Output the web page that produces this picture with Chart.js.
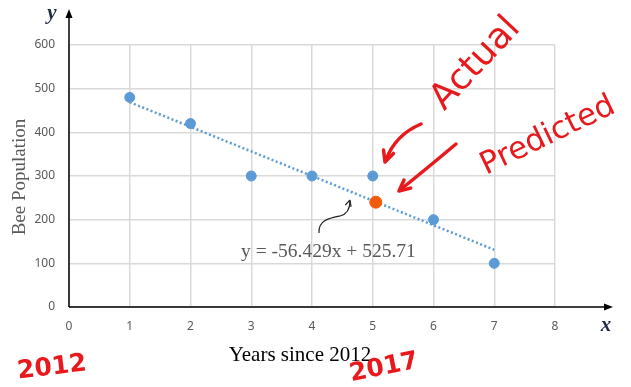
<!DOCTYPE html>
<html>
<head>
<meta charset="utf-8">
<script src="https://cdn.jsdelivr.net/npm/chart.js@4"></script>
<style>
  html, body { margin: 0; padding: 0; background: #fff; }
  #wrap { width: 631px; height: 387px; position: relative; }
</style>
</head>
<body>
<div id="wrap"><canvas id="c" width="631" height="387"></canvas></div>
<script>
// Población de abejas por año (desde 2012) con recta de tendencia
const years = [1, 2, 3, 4, 5, 6, 7];
const bees = [480, 420, 300, 300, 300, 200, 100];

// recta de tendencia (extremos)
const trendX = [1, 7];
const trendY = [469, 131];

// punto previsto (naranja) en 2017
const predX = [5.05];
const predY = [240];

const xTicks = [0, 1, 2, 3, 4, 5, 6, 7, 8];
const yTicks = [0, 100, 200, 300, 400, 500, 600];

const equation = 'y = -56.429x + 525.71';
const xTitle = 'Years since 2012';
const yTitle = 'Bee Population';

const blue = '#5b9bd5';
const red = '#e8191c';
const gray = '#595959';

function arrowHead(ctx, x, y, ang, size) {
    ctx.beginPath();
    ctx.moveTo(x, y);
    ctx.lineTo(x - size * Math.cos(ang - 0.45), y - size * Math.sin(ang - 0.45));
    ctx.moveTo(x, y);
    ctx.lineTo(x - size * Math.cos(ang + 0.45), y - size * Math.sin(ang + 0.45));
    ctx.stroke();
}

function rotText(ctx, txt, x, y, ang) {
    ctx.save();
    ctx.translate(x, y);
    ctx.rotate(ang);
    ctx.fillText(txt, 0, 0);
    ctx.restore();
}

const decor = {
    id: 'decor',
    afterDraw(chart) {
        const ctx = chart.ctx;
        const xs = chart.scales.x, ys = chart.scales.y;
        const x0 = xs.getPixelForValue(0), y0 = ys.getPixelForValue(0);

        // ejes con flecha
        ctx.save();
        ctx.strokeStyle = '#000';
        ctx.fillStyle = '#000';
        ctx.lineWidth = 1.5;
        ctx.beginPath();
        ctx.moveTo(x0, y0); ctx.lineTo(x0, 16);
        ctx.moveTo(x0, y0); ctx.lineTo(606, y0);
        ctx.stroke();
        ctx.beginPath();
        ctx.moveTo(x0, 9); ctx.lineTo(x0 - 3.5, 18); ctx.lineTo(x0 + 3.5, 18); ctx.closePath();
        ctx.fill();
        ctx.beginPath();
        ctx.moveTo(613, y0); ctx.lineTo(604, y0 - 3.5); ctx.lineTo(604, y0 + 3.5); ctx.closePath();
        ctx.fill();

        // letras de los ejes
        ctx.fillStyle = '#1f2a44';
        ctx.font = 'italic bold 21px "Liberation Serif"';
        ctx.textAlign = 'center';
        ctx.textBaseline = 'middle';
        ctx.fillText('y', 52, 14);
        ctx.fillText('x', 606, 326);

        // títulos
        ctx.fillStyle = gray;
        ctx.font = '19px "Liberation Serif"';
        rotText(ctx, yTitle, 20, 177, -Math.PI / 2);
        ctx.fillStyle = '#000';
        ctx.font = '21px "Liberation Serif"';
        ctx.fillText(xTitle, 300, 355);

        // ecuación
        ctx.fillStyle = gray;
        ctx.font = '19.5px "Liberation Serif"';
        ctx.fillText(equation, xs.getPixelForValue(4.27), ys.getPixelForValue(126));

        // flecha negra a mano
        ctx.strokeStyle = '#222';
        ctx.lineWidth = 1.2;
        ctx.beginPath();
        ctx.moveTo(319, 233);
        ctx.bezierCurveTo(318, 220, 330, 218, 340, 216);
        ctx.bezierCurveTo(348, 214, 350, 208, 350, 201);
        ctx.stroke();
        arrowHead(ctx, 350, 200, -Math.PI / 2 + 0.3, 7);

        // anotaciones rojas
        ctx.strokeStyle = red;
        ctx.fillStyle = red;
        ctx.lineWidth = 3.5;
        ctx.lineCap = 'round';
        ctx.beginPath();
        ctx.moveTo(421, 124);
        ctx.quadraticCurveTo(395, 135, 386, 160);
        ctx.stroke();
        arrowHead(ctx, 385, 162, 1.9, 12);
        ctx.beginPath();
        ctx.moveTo(456, 144);
        ctx.quadraticCurveTo(425, 170, 400, 190);
        ctx.stroke();
        arrowHead(ctx, 399, 191, 2.45, 12);

        ctx.font = '36px "DejaVu Sans"';
        rotText(ctx, 'Actual', 476, 64, -0.82);
        ctx.font = '31px "DejaVu Sans"';
        rotText(ctx, 'Predicted', 548, 136, -0.45);
        ctx.font = 'bold 25px "DejaVu Sans"';
        rotText(ctx, '2012', 52, 368, -0.12);
        rotText(ctx, '2017', 384, 368, -0.2);
        ctx.restore();
    }
};

new Chart(document.getElementById('c'), {
    type: 'scatter',
    data: {
        datasets: [
            {
                label: 'Bee Population',
                data: years.map((x, i) => ({ x: x, y: bees[i] })),
                backgroundColor: blue,
                borderColor: blue,
                pointRadius: 5,
                order: 1
            },
            {
                label: 'Predicted',
                data: predX.map((x, i) => ({ x: x, y: predY[i] })),
                backgroundColor: '#f05a0a',
                borderColor: '#f05a0a',
                pointRadius: 6,
                order: 0
            },
            {
                label: 'Trend',
                type: 'line',
                data: trendX.map((x, i) => ({ x: x, y: trendY[i] })),
                borderColor: blue,
                borderWidth: 2.5,
                borderDash: [2, 2.5],
                pointRadius: 0,
                fill: false,
                order: 2
            }
        ]
    },
    options: {
        responsive: false,
        animation: false,
        layout: { padding: { left: 0, top: 45, right: 76, bottom: 0 } },
        plugins: { legend: { display: false }, tooltip: { enabled: false } },
        scales: {
            x: {
                type: 'linear',
                min: 0, max: 8,
                afterFit: s => { s.height = 80; },
                afterBuildTicks: s => { s.ticks = xTicks.map(v => ({ value: v })); },
                grid: { color: '#d9d9d9', lineWidth: 1.5, drawTicks: false },
                border: { display: false },
                ticks: { padding: 12, color: gray, font: { family: 'Noto Sans', size: 12 } }
            },
            y: {
                min: 0, max: 600,
                afterFit: s => { s.width = 69; },
                afterBuildTicks: s => { s.ticks = yTicks.map(v => ({ value: v })); },
                grid: { color: '#d9d9d9', lineWidth: 1.5, drawTicks: false },
                border: { display: false },
                ticks: { padding: 14, color: gray, font: { family: 'Noto Sans', size: 12 } }
            }
        }
    },
    plugins: [decor]
});
</script>
</body>
</html>
